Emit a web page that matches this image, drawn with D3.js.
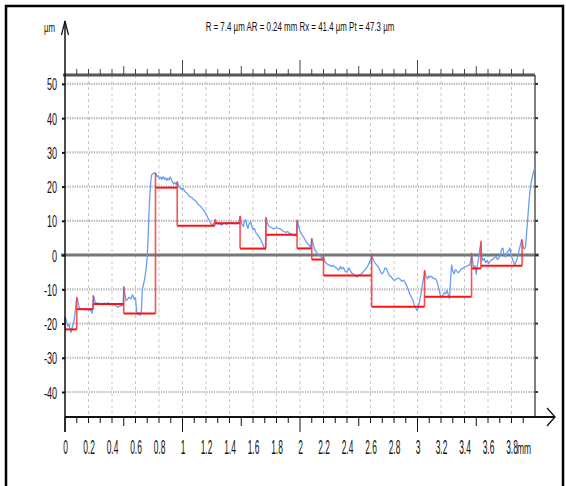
<!DOCTYPE html>
<html>
<head>
<meta charset="utf-8">
<script src="https://cdn.jsdelivr.net/npm/d3@7"></script>
<style>
  html, body { margin: 0; padding: 0; background: #fff; }
  svg { display: block; }
  text { font-family: "Liberation Sans", Arial, sans-serif; fill: #111; }
</style>
</head>
<body>
<svg id="chart" width="566" height="486"></svg>
<script>
// ---- profile data (mm, µm) ----
const titleText = "R = 7.4 µm  AR = 0.24 mm  Rx = 41.4 µm Pt = 47.3 µm";

const profileX = [
  0.005,0.015,0.025,0.035,0.045,0.052,0.060,0.068,0.078,0.088,0.096,0.104,0.112,0.120,0.130,0.145,0.160,0.175,0.190,0.205,
  0.220,0.232,0.240,0.246,0.255,0.265,0.275,0.290,0.305,0.320,0.335,0.350,0.365,0.380,0.395,0.410,0.425,0.440,0.455,0.470,
  0.485,0.495,0.502,0.510,0.520,0.530,0.545,0.560,0.575,0.590,0.600,0.610,0.620,0.630,0.640,0.650,0.658,0.668,0.680,0.690,
  0.700,0.708,0.715,0.722,0.730,0.738,0.750,0.765,0.775,0.785,0.795,0.805,0.815,0.825,0.835,0.845,0.855,0.865,0.875,0.885,
  0.895,0.905,0.915,0.925,0.935,0.945,0.955,0.965,0.975,0.990,1.005,1.020,1.035,1.050,1.065,1.080,1.095,1.110,1.125,1.140,
  1.155,1.170,1.185,1.200,1.215,1.230,1.245,1.260,1.270,1.278,1.290,1.300,1.315,1.330,1.345,1.360,1.375,1.390,1.405,1.420,
  1.435,1.450,1.465,1.480,1.492,1.505,1.518,1.528,1.538,1.548,1.558,1.568,1.580,1.590,1.600,1.612,1.625,1.640,1.655,1.670,
  1.685,1.695,1.705,1.712,1.720,1.732,1.745,1.760,1.775,1.790,1.805,1.820,1.835,1.850,1.865,1.880,1.895,1.910,1.925,1.940,
  1.955,1.968,1.976,1.990,2.000,2.015,2.030,2.045,2.060,2.075,2.090,2.100,2.110,2.125,2.140,2.155,2.170,2.185,2.200,2.210,
  2.225,2.240,2.255,2.270,2.285,2.300,2.315,2.330,2.345,2.355,2.370,2.385,2.400,2.415,2.425,2.440,2.455,2.470,2.485,2.500,
  2.515,2.530,2.545,2.560,2.575,2.590,2.605,2.615,2.628,2.640,2.655,2.668,2.680,2.695,2.710,2.722,2.735,2.748,2.760,2.775,
  2.790,2.805,2.820,2.835,2.850,2.865,2.880,2.895,2.908,2.920,2.935,2.948,2.960,2.972,2.985,2.995,3.005,3.018,3.030,3.042,
  3.055,3.062,3.072,3.085,3.095,3.108,3.120,3.135,3.150,3.162,3.172,3.182,3.192,3.203,3.215,3.228,3.240,3.252,3.262,3.272,
  3.282,3.290,3.300,3.311,3.322,3.333,3.345,3.358,3.370,3.385,3.400,3.415,3.430,3.445,3.455,3.462,3.470,3.480,3.490,3.500,
  3.510,3.520,3.530,3.540,3.548,3.557,3.568,3.580,3.592,3.605,3.618,3.630,3.642,3.655,3.668,3.680,3.692,3.705,3.718,3.727,
  3.738,3.750,3.762,3.775,3.786,3.795,3.805,3.815,3.827,3.840,3.852,3.865,3.878,3.885,3.893,3.903,3.912,3.920,3.930,3.940,
  3.950,3.960,3.972,3.985,3.998
];
const profileY = [
  -18.4,-19.5,-20.8,-20.2,-22.0,-22.6,-21.4,-20.5,-19.0,-16.0,-13.5,-12.6,-13.8,-15.2,-15.8,-15.9,-15.7,-16.0,-15.8,-16.1,
  -16.2,-17.0,-13.5,-12.1,-13.6,-14.3,-13.9,-14.4,-14.1,-14.5,-14.0,-14.4,-13.9,-14.5,-14.2,-14.6,-14.4,-15.0,-15.2,-14.8,
  -14.9,-14.0,-9.6,-11.5,-13.4,-13.0,-12.3,-12.8,-11.6,-12.9,-12.5,-16.4,-17.4,-16.9,-17.6,-16.4,-10.0,-8.6,-6.5,-4.0,
  -0.5,6.0,12.5,17.5,21.5,23.5,23.8,24.0,23.6,22.9,23.2,22.3,22.8,22.1,22.9,22.2,22.6,21.8,22.4,22.0,
  22.8,22.1,21.3,20.8,21.2,20.6,21.4,20.4,19.8,19.2,19.5,18.6,18.2,17.5,17.0,16.8,16.2,16.0,15.2,14.6,
  14.2,13.5,12.9,12.0,10.9,10.0,9.1,8.8,9.5,10.4,9.4,9.0,9.2,8.7,9.1,9.4,8.9,9.5,9.2,9.6,
  9.3,9.1,9.5,9.7,11.4,9.0,8.3,10.0,10.3,8.6,7.8,9.2,9.8,8.4,7.4,7.8,6.5,5.9,5.1,4.2,
  3.0,2.0,1.6,11.0,9.5,8.6,8.2,8.0,7.6,7.9,8.0,7.7,7.6,7.1,6.9,6.6,6.9,6.3,6.2,6.0,
  5.9,5.6,10.2,8.2,7.0,6.0,5.3,4.3,3.6,3.0,2.3,4.8,3.5,1.6,0.8,0.2,-0.3,-0.8,-0.4,-1.8,
  -2.4,-2.8,-3.0,-3.3,-3.0,-3.6,-3.9,-4.4,-3.3,-4.1,-3.6,-4.8,-5.0,-3.8,-4.2,-5.3,-5.5,-6.0,-6.4,-5.9,
  -5.6,-5.2,-4.6,-4.0,-3.3,-2.2,-0.9,-0.6,-1.7,-2.4,-3.0,-3.5,-4.4,-5.5,-5.1,-3.8,-3.9,-5.0,-6.0,-6.3,
  -7.0,-7.4,-7.0,-6.7,-7.0,-7.6,-7.3,-8.0,-9.0,-10.0,-11.4,-12.4,-13.0,-14.5,-15.4,-16.2,-15.6,-13.4,-11.5,-8.5,
  -6.0,-4.6,-6.2,-6.9,-6.1,-6.5,-6.2,-6.9,-6.8,-7.4,-8.5,-10.0,-11.5,-12.3,-11.8,-11.0,-11.3,-10.3,-11.6,-12.7,
  -7.0,-2.9,-4.6,-5.5,-4.3,-4.5,-5.2,-4.8,-4.1,-3.9,-3.5,-3.4,-3.0,-2.9,-1.2,0.2,-2.0,-4.0,-3.1,-5.6,
  -3.0,-1.0,1.8,3.6,-0.5,-1.6,-1.0,-2.2,-1.5,-2.5,-1.8,-1.4,-1.2,-0.8,-0.4,-1.3,-0.9,0.3,1.8,2.0,
  -0.2,-0.6,0.8,1.2,2.1,0.4,-1.0,-1.8,-2.9,-1.9,-0.6,1.5,3.2,4.4,3.5,2.0,1.8,2.6,7.0,11.5,
  16.0,19.5,22.0,24.0,25.6
];

// ---- roughness motifs: boundaries (mm), motif depth levels (µm), peak heights at boundaries (µm) ----
const motifBounds = [0, 0.10, 0.24, 0.50, 0.77, 0.955, 1.275, 1.49, 1.71, 1.975, 2.10, 2.20, 2.61, 3.06, 3.46, 3.54, 3.89];
const motifLevels = [-21.7, -15.8, -14.3, -17.1, 19.7, 8.6, 9.3, 1.9, 5.9, 1.95, -1.3, -6.0, -15.1, -12.2, -3.9, -3.1];
const motifPeaks  = [-18.0, -12.2, -11.7, -9.1, 24.1, 21.4, 10.4, 11.4, 11.0, 10.2, 4.9, -0.3, 0.5, -4.4, 0.7, 4.2, 4.6];

// ---- axis ticks ----
const yTickValues = [50, 40, 30, 20, 10, 0, -10, -20, -30, -40];
const yTickLabels = ["50", "40", "30", "20", "10", "0", "-10", "-20", "-30", "-40"];
const xTickValues = [0, 0.2, 0.4, 0.6, 0.8, 1, 1.2, 1.4, 1.6, 1.8, 2, 2.2, 2.4, 2.6, 2.8, 3, 3.2, 3.4, 3.6, 3.8];
const xTickLabels = ["0", "0.2", "0.4", "0.6", "0.8", "1", "1.2", "1.4", "1.6", "1.8", "2", "2.2", "2.4", "2.6", "2.8", "3", "3.2", "3.4", "3.6", "3.8"];

const svg = d3.select("#chart");
const x = d3.scaleLinear().domain([0, 4]).range([65, 535]);
const y = d3.scaleLinear().domain([-47.3, 52.6]).range([417, 75]);

// frame
svg.append("rect").attr("x", 6).attr("y", 6).attr("width", 557).attr("height", 500)
  .attr("fill", "#fff").attr("stroke", "#000").attr("stroke-width", 2.5);

// vertical dashed grid every 0.2 mm
svg.append("g").selectAll("line").data(xTickValues.filter(v => v > 0)).join("line")
  .attr("x1", d => x(d)).attr("x2", d => x(d))
  .attr("y1", y(52.6)).attr("y2", y(-47.3))
  .attr("stroke", "#c8c8c8").attr("stroke-width", 1).attr("stroke-dasharray", "3,3");

// horizontal dotted grid every 10 µm
svg.append("g").selectAll("line").data(yTickValues.filter(v => v !== 0)).join("line")
  .attr("x1", x(0)).attr("x2", x(4))
  .attr("y1", d => y(d)).attr("y2", d => y(d))
  .attr("stroke", "#b4b4b4").attr("stroke-width", 2.2).attr("stroke-dasharray", "1.2,1.2");

// zero reference line
svg.append("line").attr("x1", 61).attr("x2", 539).attr("y1", y(0)).attr("y2", y(0))
  .attr("stroke", "#777").attr("stroke-width", 3);

// top scale bar with ticks
svg.append("line").attr("x1", 63).attr("x2", x(4)).attr("y1", y(52.6)).attr("y2", y(52.6))
  .attr("stroke", "#555").attr("stroke-width", 3);
const topTicks = d3.range(1, 40).map(i => i / 10);
const tickLen = v => (Math.abs(v - Math.round(v)) < 1e-6 ? 15 : (Math.abs(v * 2 - Math.round(v * 2)) < 1e-6 ? 9 : 6));
svg.append("g").selectAll("line").data(topTicks).join("line")
  .attr("x1", d => x(d)).attr("x2", d => x(d))
  .attr("y1", y(52.6)).attr("y2", d => y(52.6) - tickLen(d))
  .attr("stroke", "#444").attr("stroke-width", 1);

// right border axis
svg.append("line").attr("x1", x(4)).attr("x2", x(4)).attr("y1", y(52.6)).attr("y2", y(-47.3))
  .attr("stroke", "#555").attr("stroke-width", 1.5);
svg.append("g").selectAll("line").data(yTickValues).join("line")
  .attr("x1", x(4)).attr("x2", x(4) + 3)
  .attr("y1", d => y(d)).attr("y2", d => y(d))
  .attr("stroke", "#333").attr("stroke-width", 2);

// profile curve
const line = d3.line().x(d => x(d[0])).y(d => y(d[1]));
svg.append("path").datum(profileX.map((v, i) => [v, profileY[i]]))
  .attr("d", line).attr("fill", "none")
  .attr("stroke", "#6a9ef2").attr("stroke-width", 1.3).attr("stroke-linejoin", "round");

// motif depths (horizontal) and peaks (vertical)
svg.append("g").selectAll("line").data(motifLevels).join("line")
  .attr("x1", (d, i) => x(motifBounds[i])).attr("x2", (d, i) => x(motifBounds[i + 1]))
  .attr("y1", d => y(d)).attr("y2", d => y(d))
  .attr("stroke", "#ff1010").attr("stroke-width", 2);
svg.append("g").selectAll("line").data(motifPeaks).join("line")
  .attr("x1", (d, i) => x(motifBounds[i])).attr("x2", (d, i) => x(motifBounds[i]))
  .attr("y1", (d, i) => {
    const adj = [motifLevels[i - 1], motifLevels[i]].filter(v => v !== undefined);
    return y(Math.min(...adj));
  })
  .attr("y2", d => y(d))
  .attr("stroke", "#ff3030").attr("stroke-opacity", 0.85).attr("stroke-width", 1.6);

// left axis with arrow
svg.append("line").attr("x1", x(0)).attr("x2", x(0)).attr("y1", 21).attr("y2", 432)
  .attr("stroke", "#111").attr("stroke-width", 1.5);
svg.append("path").attr("d", `M${x(0) - 3.5},35 L${x(0)},21 L${x(0) + 3.5},35`)
  .attr("fill", "none").attr("stroke", "#111").attr("stroke-width", 1.2);

const yAxis = d3.axisLeft(y).tickValues(yTickValues)
  .tickFormat((d, i) => yTickLabels[i]).tickSize(3).tickPadding(0);
const gy = svg.append("g").attr("transform", `translate(${x(0)},0)`).call(yAxis);
gy.select(".domain").remove();
gy.selectAll(".tick line").attr("stroke", "#111").attr("stroke-width", 2);
gy.selectAll(".tick text")
  .attr("x", null).attr("dy", null).attr("text-anchor", "end")
  .attr("transform", "translate(-8,6) scale(0.55,1)")
  .style("font-size", "16.5px").style("font-family", "'Liberation Sans', Arial, sans-serif");

// bottom axis with arrow
svg.append("line").attr("x1", x(0)).attr("x2", 555).attr("y1", y(-47.3)).attr("y2", y(-47.3))
  .attr("stroke", "#111").attr("stroke-width", 2);
svg.append("path").attr("d", `M547,408 L555,${y(-47.3)} L547,426`)
  .attr("fill", "none").attr("stroke", "#111").attr("stroke-width", 1.3);
svg.append("g").selectAll("line").data(d3.range(0, 40).map(i => i / 10)).join("line")
  .attr("x1", d => x(d)).attr("x2", d => x(d))
  .attr("y1", y(-47.3)).attr("y2", d => y(-47.3) + tickLen(d))
  .attr("stroke", "#111").attr("stroke-width", 1);

const xAxis = d3.axisBottom(x).tickValues(xTickValues)
  .tickFormat((d, i) => xTickLabels[i]).tickSize(0).tickPadding(0);
const gx = svg.append("g").attr("transform", `translate(0,${y(-47.3)})`).call(xAxis);
gx.select(".domain").remove();
gx.selectAll(".tick text")
  .attr("y", null).attr("dy", null).attr("text-anchor", "middle")
  .attr("transform", "translate(0,37) scale(0.4,1)")
  .style("font-size", "21px").style("font-family", "'Liberation Sans', Arial, sans-serif");

svg.append("text").attr("text-anchor", "start")
  .attr("transform", `translate(517,${y(-47.3) + 37}) scale(0.5,1)`)
  .style("font-size", "17px").text("mm");

// unit label
svg.append("text").attr("text-anchor", "end")
  .attr("transform", "translate(55,32) scale(0.6,1)")
  .style("font-size", "13px").text("µm");

// title, condensed to its printed width
const title = svg.append("text").attr("text-anchor", "middle")
  .style("font-size", "13px").text(titleText);
const tw = title.node().getComputedTextLength();
title.attr("transform", `translate(300,31) scale(${189 / tw},1)`);
</script>
</body>
</html>
